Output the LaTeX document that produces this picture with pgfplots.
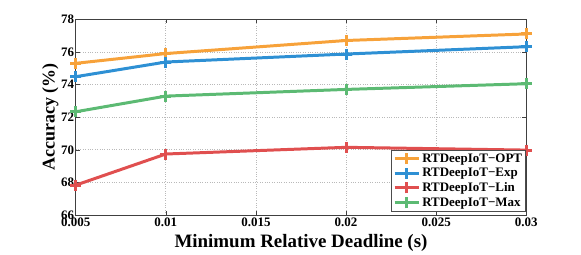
\documentclass[border=0pt]{standalone}
\usepackage{pgfplots}
\pgfplotsset{compat=1.18}
\usepackage{fontspec}
\setmainfont{Liberation Serif}
\definecolor{cOPT}{HTML}{F7A23A}
\definecolor{cExp}{HTML}{2E90D4}
\definecolor{cLin}{HTML}{E04F4F}
\definecolor{cMax}{HTML}{5CBA73}
\pgfplotsset{myplot/.style={#1, line width=3pt, mark=+, mark size=5.5bp,
    mark options={#1, line width=3pt, solid}}}
\begin{document}
\begin{tikzpicture}[x=1bp,y=1bp]
\begin{axis}[
  at={(0,0)}, anchor=south west,
  scale only axis, width=450.6bp, height=195.7bp,
  xmin=0.005, xmax=0.03, ymin=66, ymax=78,
  scaled x ticks=false,
  xtick={0.005,0.01,0.015,0.02,0.025,0.03},
  xticklabels={\textbf{0.005},\textbf{0.01},\textbf{0.015},\textbf{0.02},\textbf{0.025},\textbf{0.03}},
  ytick={66,68,70,72,74,76,78},
  yticklabels={\textbf{66},\textbf{68},\textbf{70},\textbf{72},\textbf{74},\textbf{76},\textbf{78}},
  tick align=inside, tick pos=both,
  major tick length=4bp,
  grid=major,
  major grid style={dotted, gray!55, line width=0.7pt},
  axis line style={black!75, line width=0.6pt},
  every tick/.style={black!75, line width=0.5pt},
  tick label style={font=\fontsize{13}{13}\selectfont\bfseries},
  xticklabel style={yshift=0.5bp},
  yticklabel style={xshift=2bp},
  xlabel={\textbf{Minimum Relative Deadline (s)}},
  ylabel={\textbf{Accuracy (\%)}},
  xlabel style={font=\fontsize{19}{19}\selectfont\bfseries, yshift=-0.5bp},
  ylabel style={font=\fontsize{18}{18}\selectfont\bfseries, yshift=-4bp},
  legend style={at={(1,0)}, anchor=south east, xshift=-0.5bp, yshift=3.5bp,
    font=\fontsize{13}{15}\selectfont\bfseries, draw=black!70, line width=0.5pt,
    inner sep=1.5bp, row sep=0.6bp},
  legend cell align=left,
  legend image code/.code={
    \draw[#1, line width=3pt] (0cm,0cm) -- (0.85cm,0cm);
    \draw[#1, line width=2.6pt] (0.425cm,-5.5bp) -- (0.425cm,5.5bp);
  },
]
\addplot[myplot=cOPT] coordinates {(0.005,75.3) (0.01,75.9) (0.02,76.7) (0.03,77.1)};
\addplot[myplot=cExp] coordinates {(0.005,74.48) (0.01,75.38) (0.02,75.87) (0.03,76.32)};
\addplot[myplot=cLin] coordinates {(0.005,67.83) (0.01,69.74) (0.02,70.15) (0.03,69.98)};
\addplot[myplot=cMax] coordinates {(0.005,72.33) (0.01,73.29) (0.02,73.7) (0.03,74.05)};
\legend{RTDeepIoT−OPT, RTDeepIoT−Exp, RTDeepIoT−Lin, RTDeepIoT−Max}
\end{axis}
\path[use as bounding box] (-75.7bp,-39bp) rectangle (505.3bp,215bp);
\end{tikzpicture}
\end{document}
